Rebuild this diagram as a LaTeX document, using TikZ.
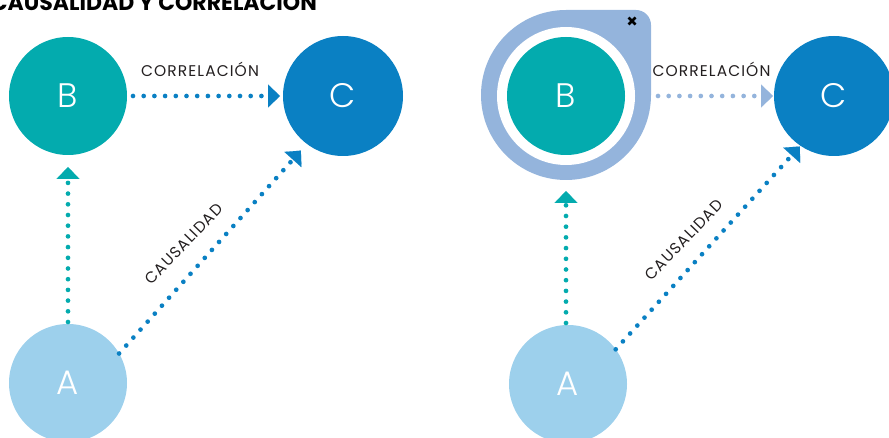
\documentclass[tikz,border=0pt]{standalone}
\usepackage{fontspec}
\setmainfont{Poppins}
\newfontfamily\lightfont{Poppins}[UprightFont={* Light}]
\usetikzlibrary{arrows.meta}
\definecolor{tealB}{HTML}{03ABAE}
\definecolor{blueC}{HTML}{0A80C3}
\definecolor{lightA}{HTML}{9DD0EC}
\definecolor{frameB}{HTML}{94B4DC}
\definecolor{txt}{HTML}{231F20}
\begin{document}
\begin{tikzpicture}[x=1pt,y=1pt,
  circ/.style={circle, inner sep=0pt, outer sep=0pt, minimum size=#1, text=white, font=\lightfont\fontsize{34}{34}\selectfont},
  dotline/.style={line width=4.7pt, line cap=round, dash pattern=on 0pt off 10.7pt, draw=#1,
     -{Triangle[length=12pt,width=23pt,line width=0.1pt,fill=#1,color=#1]}},
  lbl/.style={text=txt, inner sep=0pt, font=\addfontfeatures{LetterSpace=7}\fontsize{15.5}{16}\selectfont},
  ttl/.style={text=black, inner sep=0pt, font=\fontsize{22}{22}\bfseries\selectfont}
]
\useasboundingbox (0,0) rectangle (889,-438);
\clip (0,0) rectangle (889,-438);
% title
\node[ttl, anchor=base east] (title) at (317,-11) {CAUSALIDAD Y CORRELACIÓN};
% ---------- left diagram ----------
\node[circ=118pt, fill=tealB] (B1) at (68,-96) {B};
\node[circ=120pt, fill=blueC] (C1) at (343,-96) {C};
\node[circ=118pt, fill=lightA] (A1) at (68,-383) {A};
\draw[dotline=blueC, shorten <=6pt, shorten >=3pt] (B1) -- (C1);
\draw[dotline=tealB, shorten <=2pt, shorten >=12pt] (A1) -- (B1);
\draw[dotline=blueC, shorten >=9pt] (A1.30) -- (C1.233);
\node[lbl, anchor=base] (corr1) at (200,-77) {CORRELACIÓN};
\node[lbl, rotate=46] (caus1) at (184,-244) {CAUSALIDAD};
% ---------- right diagram ----------
\fill[frameB] (481,-95) arc[start angle=180, end angle=90, radius=85] -- (636,-10)
   arc[start angle=90, end angle=0, radius=15] -- (651,-95)
   arc[start angle=0, end angle=-180, radius=85] -- cycle;
\fill[white] (566,-96) circle[radius=69];
\node[circ=118pt, fill=tealB] (B2) at (566,-96) {B};
\node[circ=120pt, fill=blueC] (C2) at (834,-96) {C};
\node[circ=118pt, fill=lightA] (A2) at (568,-384) {A};
\coordinate (x1) at (628.5,-17.5);
\coordinate (x2) at (635.5,-24.5);
\coordinate (x3) at (628.5,-24.5);
\coordinate (x4) at (635.5,-17.5);
\draw[line width=2.6pt, black] (x1) -- (x2) (x3) -- (x4);
\coordinate (a2top) at (566,-325);
\draw[dotline=frameB, shorten <=33pt, shorten >=1pt] (B2) -- (C2);
\draw[dotline=tealB, shorten <=2pt, shorten >=36pt] (a2top) -- (B2);
\draw[dotline=blueC, shorten >=1pt] (A2.36) -- (C2.236);
\node[lbl, anchor=base] (corr2) at (711.5,-77) {CORRELACIÓN};
\node[lbl, rotate=46] (caus2) at (684,-240) {CAUSALIDAD};
\end{tikzpicture}
\end{document}
